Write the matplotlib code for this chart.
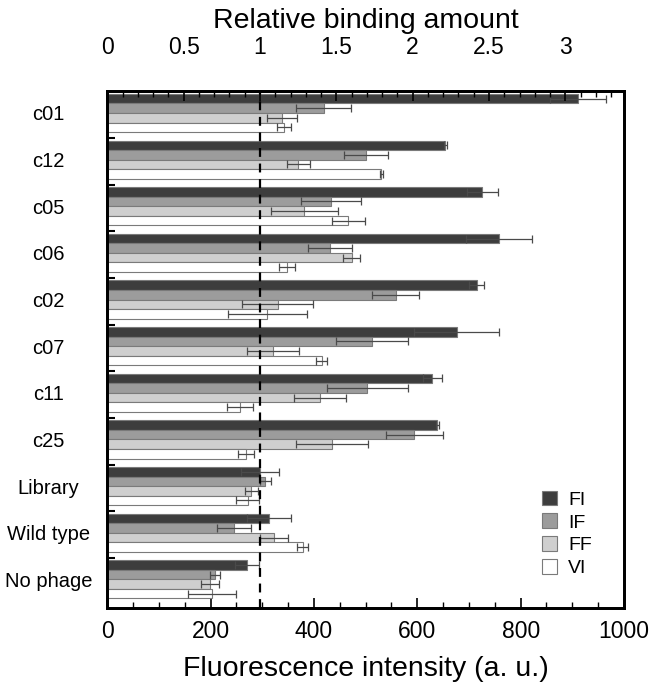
import matplotlib
matplotlib.use("Agg")
import matplotlib.pyplot as plt
from matplotlib.ticker import MultipleLocator, FixedLocator
from matplotlib.patches import Patch
import numpy as np

plt.rcParams['font.family'] = ['Liberation Sans', 'DejaVu Sans']

categories = ['c01', 'c12', 'c05', 'c06', 'c02', 'c07', 'c11', 'c25',
              'Library', 'Wild type', 'No phage']
FI = [911, 654, 726, 758, 715, 676, 629, 639, 295, 313, 270]
FI_err = [55, 3, 30, 64, 15, 83, 18, 3, 37, 43, 23]
IF = [419, 501, 433, 431, 558, 512, 503, 594, 306, 246, 208]
IF_err = [53, 43, 58, 42, 45, 69, 78, 55, 10, 33, 10]
FF = [339, 370, 381, 473, 330, 321, 412, 435, 279, 323, 199]
FF_err = [29, 22, 65, 17, 69, 50, 50, 69, 12, 27, 18]
VI = [342, 530, 466, 348, 310, 415, 257, 268, 272, 378, 203]
VI_err = [14, 3, 32, 15, 76, 11, 25, 16, 22, 10, 46]
series_names = ['FI', 'IF', 'FF', 'VI']
reference_value = 295.5  # library FI -> relative binding amount 1

colors = ['#3d3d3d', '#9c9c9c', '#cfcfcf', '#ffffff']
edge = '#7a7a7a'

fig = plt.figure(figsize=(6.53, 6.90), dpi=100)
ax = fig.add_axes([0.1643, 0.1191, 0.7913, 0.7489])

n = len(categories)
base = np.arange(n)
bh = 0.205
off0 = 0.05
series = [(FI, FI_err), (IF, IF_err), (FF, FF_err), (VI, VI_err)]
for k, (vals, errs) in enumerate(series):
    y = base + off0 + bh * (k + 0.5)
    ax.barh(y, vals, height=bh, color=colors[k], edgecolor=edge, linewidth=0.8, zorder=2)
    ax.errorbar(vals, y, xerr=errs, fmt='none', ecolor='#4a4a4a', elinewidth=0.9,
                capsize=3, capthick=0.9, zorder=3)

ax.axvline(reference_value, color='black', ls=(0, (4, 3)), lw=1.6, zorder=4)

ax.set_xlim(0, 1000)
ax.set_ylim(n + 0.07, -0.01)

ax.xaxis.set_major_locator(MultipleLocator(200))
ax.xaxis.set_minor_locator(MultipleLocator(50))
ax.tick_params(axis='x', which='major', direction='in', length=7, width=1.2,
               labelsize=16.5, pad=9)
ax.tick_params(axis='x', which='minor', direction='in', length=4, width=1.0)
ax.set_xlabel('Fluorescence intensity (a. u.)', fontsize=20.5, labelpad=9)

ax.yaxis.set_major_locator(FixedLocator(base + 0.46))
ax.set_yticklabels(categories)
ax.yaxis.set_minor_locator(FixedLocator(np.arange(1, n)))
ax.tick_params(axis='y', which='major', length=0, labelsize=14.5, pad=42.5)
ax.tick_params(axis='y', which='minor', direction='in', length=6, width=1.5)
for lbl in ax.get_yticklabels():
    lbl.set_horizontalalignment('center')

for s in ax.spines.values():
    s.set_linewidth(2.0)

ax2 = ax.twiny()
ax2.set_xlim(0, 1000 / reference_value)
ax2.xaxis.set_minor_locator(MultipleLocator(0.1))
ax2.set_xticks([0, 0.5, 1, 1.5, 2, 2.5, 3])
ax2.set_xticklabels(['0', '0.5', '1', '1.5', '2', '2.5', '3'])
ax2.tick_params(axis='x', which='major', direction='in', length=7, width=1.2,
                labelsize=16.5, pad=23)
ax2.tick_params(axis='x', which='minor', direction='in', length=4, width=1.0)
ax2.set_xlabel('Relative binding amount', fontsize=20.5, labelpad=6)
for s in ax2.spines.values():
    s.set_linewidth(2.0)

handles = [Patch(facecolor=colors[k], edgecolor=edge, linewidth=0.8) for k in range(4)]
ax.legend(handles, series_names, loc='upper left', bbox_to_anchor=(0.8407, 0.227),
          frameon=False, fontsize=14, handlelength=0.8, handleheight=0.78,
          handletextpad=0.55, labelspacing=0.25, borderpad=0, borderaxespad=0)

fig.savefig('out.png', dpi=100)
